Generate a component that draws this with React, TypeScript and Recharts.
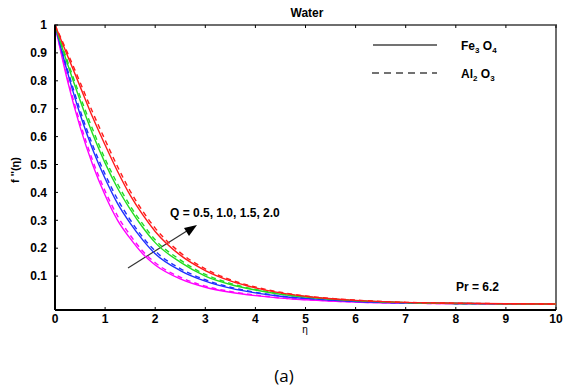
import { LineChart, Line, XAxis, YAxis, Customized } from "recharts";

// eta grid and f'(eta) profiles
const eta = [0, 0.25, 0.5, 0.75, 1, 1.25, 1.5, 1.75, 2, 2.5, 3, 3.5, 4, 4.5, 5, 6, 7, 8, 9, 10];

// Fe3O4 (solid)
const fe05 = [1, 0.8, 0.635, 0.5, 0.39, 0.3, 0.235, 0.18, 0.14, 0.09, 0.06, 0.042, 0.03, 0.021, 0.015, 0.007, 0.003, 0.001, 0, 0];
const fe10 = [1, 0.83, 0.68, 0.555, 0.45, 0.36, 0.29, 0.23, 0.18, 0.12, 0.082, 0.057, 0.04, 0.028, 0.02, 0.009, 0.004, 0.002, 0.001, 0];
const fe15 = [1, 0.86, 0.73, 0.61, 0.505, 0.415, 0.34, 0.275, 0.22, 0.15, 0.1, 0.07, 0.05, 0.035, 0.025, 0.012, 0.005, 0.002, 0.001, 0];
const fe20 = [1, 0.89, 0.78, 0.67, 0.57, 0.475, 0.39, 0.32, 0.26, 0.175, 0.12, 0.083, 0.058, 0.04, 0.028, 0.013, 0.006, 0.003, 0.001, 0];

// Al2O3 (dashed)
const al05 = [1, 0.81, 0.65, 0.515, 0.405, 0.315, 0.247, 0.19, 0.148, 0.096, 0.064, 0.045, 0.032, 0.022, 0.016, 0.007, 0.003, 0.001, 0, 0];
const al10 = [1, 0.84, 0.695, 0.57, 0.465, 0.375, 0.302, 0.24, 0.19, 0.127, 0.087, 0.06, 0.042, 0.029, 0.021, 0.01, 0.004, 0.002, 0.001, 0];
const al15 = [1, 0.87, 0.745, 0.627, 0.52, 0.43, 0.352, 0.287, 0.23, 0.158, 0.106, 0.074, 0.052, 0.037, 0.026, 0.012, 0.005, 0.002, 0.001, 0];
const al20 = [1, 0.9, 0.795, 0.688, 0.588, 0.492, 0.405, 0.333, 0.272, 0.184, 0.126, 0.087, 0.061, 0.042, 0.029, 0.014, 0.006, 0.003, 0.001, 0];

const xTicks = [0, 1, 2, 3, 4, 5, 6, 7, 8, 9, 10];
const yTicks = [0.1, 0.2, 0.3, 0.4, 0.5, 0.6, 0.7, 0.8, 0.9, 1];

const data = eta.map((e, i) => ({
  eta: e,
  fe05: fe05[i], fe10: fe10[i], fe15: fe15[i], fe20: fe20[i],
  al05: al05[i], al10: al10[i], al15: al15[i], al20: al20[i],
}));

const series = [
  { key: "fe05", color: "#ff00ff", dash: undefined },
  { key: "al05", color: "#ff00ff", dash: "5 4" },
  { key: "fe10", color: "#1f2fff", dash: undefined },
  { key: "al10", color: "#1f2fff", dash: "5 4" },
  { key: "fe15", color: "#22dd22", dash: undefined },
  { key: "al15", color: "#22dd22", dash: "5 4" },
  { key: "fe20", color: "#ff1a1a", dash: undefined },
  { key: "al20", color: "#ff1a1a", dash: "5 4" },
];

const FONT = "'Liberation Sans', Arial, Helvetica, sans-serif";
const tickStyle = { fill: "#000", fontSize: 12, fontWeight: 700, fontFamily: FONT };

// plot box in pixels (matches chart margins + axis sizes below)
const L = 55, R = 556, T = 25, B = 310;

function Extras() {
  const ticksX = xTicks.map((t) => L + ((R - L) * t) / 10);
  return (
    <g style={{ fontFamily: FONT, fontWeight: 700 }} fill="#000">
      {/* MATLAB-style frame with inward ticks */}
      <path d={`M${L},${B} L${L},${T} L${R},${T} L${R},${B}`} fill="none" stroke="#6e6e6e" strokeWidth={2} />
      <path d={`M${L},${B} L${L},${T}`} fill="none" stroke="#000" strokeWidth={2} />
      {ticksX.map((x, i) => (
        <line key={"tt" + i} x1={x} x2={x} y1={T} y2={T + 3} stroke="#000" strokeWidth={1} />
      ))}
      <text x={307} y={17} fontSize={12} textAnchor="middle">Water</text>
      {/* legend */}
      <line x1={373} x2={437} y1={45} y2={45} stroke="#444" strokeWidth={1.3} />
      <text x={461} y={50} fontSize={12}>
        Fe<tspan fontSize={8} dy={3}>3</tspan><tspan dy={-3}> O</tspan><tspan fontSize={8} dy={3}>4</tspan>
      </text>
      <line x1={372} x2={437} y1={73} y2={73} stroke="#444" strokeWidth={1.3} strokeDasharray="7 5" />
      <text x={461} y={78} fontSize={12}>
        Al<tspan fontSize={8} dy={3}>2</tspan><tspan dy={-3}> O</tspan><tspan fontSize={8} dy={3}>3</tspan>
      </text>
      {/* annotation */}
      <text x={170} y={217} fontSize={12}>Q = 0.5, 1.0, 1.5, 2.0</text>
      <line x1={128} y1={268} x2={190} y2={229} stroke="#333" strokeWidth={1.2} />
      <polygon points="197,225 184,228 189,236" fill="#000" />
      <text x={456} y={291} fontSize={12}>Pr = 6.2</text>
      {/* axis labels */}
      <text x={305} y={333} fontSize={10} fontWeight={400} textAnchor="middle">η</text>
      <text x={19} y={170} fontSize={11} textAnchor="middle" transform="rotate(-90 19 170)">
        f ''(η)
      </text>
      <text
        x={284}
        y={382}
        fontSize={17}
        style={{ fontFamily: "'Open Sans', sans-serif", fontWeight: 400 }}
        textAnchor="middle"
      >
        (a)
      </text>
    </g>
  );
}

export default function App() {
  return (
    <div style={{ position: "absolute", left: 0, top: 0, width: 566, height: 392, background: "#fff" }}>
      <LineChart width={566} height={392} data={data} margin={{ top: T, right: 566 - R, bottom: 52, left: 0 }}>
        <XAxis
          dataKey="eta"
          type="number"
          domain={[0, 10]}
          ticks={xTicks}
          interval={0}
          height={30}
          axisLine={{ stroke: "#000", strokeWidth: 2 }}
          tickLine={{ stroke: "#000" }}
          tickSize={-3}
          tickMargin={7}
          tick={tickStyle}
        />
        <YAxis
          type="number"
          domain={[-0.0215, 1]}
          ticks={yTicks}
          interval={0}
          width={L}
          axisLine={{ stroke: "#000", strokeWidth: 2 }}
          tickLine={{ stroke: "#000" }}
          tickSize={-3}
          tickMargin={11}
          tick={tickStyle}
        />
        {series.map((s) => (
          <Line
            key={s.key}
            dataKey={s.key}
            type="monotone"
            stroke={s.color}
            strokeWidth={1.4}
            strokeDasharray={s.dash}
            dot={false}
            isAnimationActive={false}
          />
        ))}
        <Customized component={Extras} />
      </LineChart>
    </div>
  );
}
